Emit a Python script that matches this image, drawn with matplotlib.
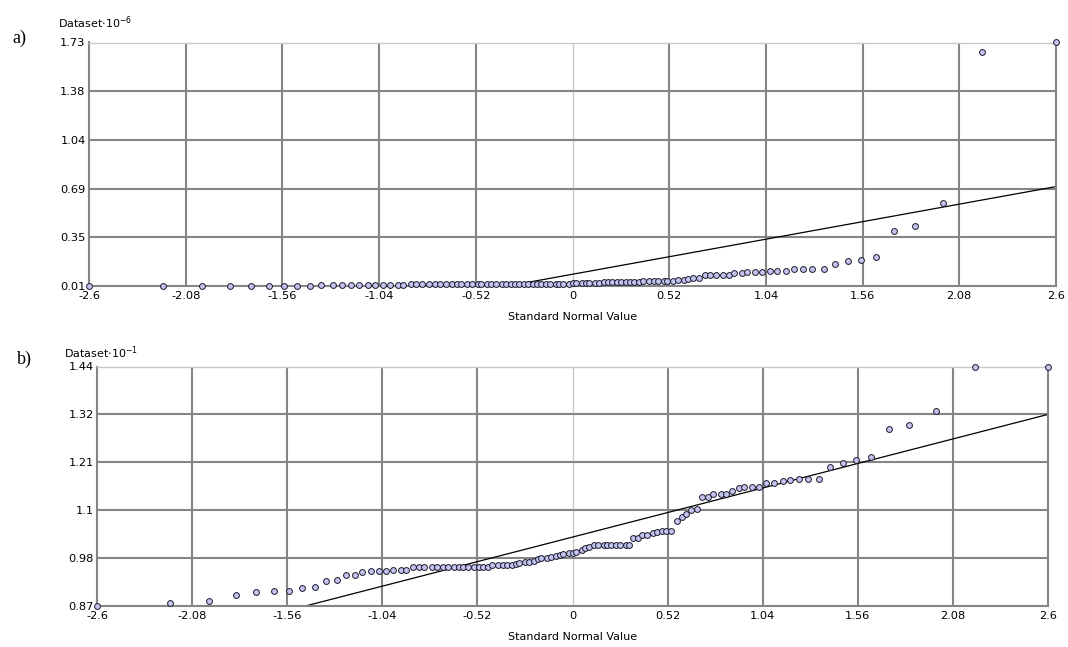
import matplotlib
matplotlib.use('Agg')
import matplotlib.pyplot as plt
import numpy as np

# Quantis teóricos (eixo X) - 107 pontos
x_quantis = [-2.60, -2.20, -1.99, -1.84, -1.73, -1.63, -1.55, -1.48, -1.41, -1.35,
             -1.29, -1.24, -1.19, -1.15, -1.10, -1.06, -1.02, -0.98, -0.94, -0.91,
             -0.87, -0.84, -0.81, -0.77, -0.74, -0.71, -0.68, -0.65, -0.62, -0.60,
             -0.57, -0.54, -0.51, -0.49, -0.46, -0.44, -0.41, -0.38, -0.36, -0.33,
             -0.31, -0.29, -0.26, -0.24, -0.21, -0.19, -0.17, -0.14, -0.12, -0.09,
             -0.07, -0.05, -0.02, 0.00, 0.02, 0.05, 0.07, 0.09, 0.12, 0.14,
             0.17, 0.19, 0.21, 0.24, 0.26, 0.29, 0.31, 0.33, 0.36, 0.38,
             0.41, 0.44, 0.46, 0.49, 0.51, 0.54, 0.57, 0.60, 0.62, 0.65,
             0.68, 0.71, 0.74, 0.77, 0.81, 0.84, 0.87, 0.91, 0.94, 0.98,
             1.02, 1.06, 1.10, 1.15, 1.19, 1.24, 1.29, 1.35, 1.41, 1.48,
             1.55, 1.63, 1.73, 1.84, 1.99, 2.20, 2.60]

# Painel a) - Dataset * 10^-6
dados_a = ([0.012] * 9 + [0.020] * 11 + [0.022] * 20 + [0.024] * 13 +
           [0.030] * 7 + [0.036] * 9 + [0.043] * 7 +
           [0.052, 0.052, 0.060, 0.065, 0.070] +
           [0.090] * 5 + [0.100] * 2 + [0.110] * 3 + [0.118] * 3 + [0.128] * 4 +
           [0.165, 0.187, 0.194, 0.215, 0.397, 0.436, 0.597, 1.660, 1.730])
linha_a_x = [-2.6, 2.6]
linha_a_y = [-0.526, 0.712]
yticks_a = ['0.01', '0.35', '0.69', '1.04', '1.38', '1.73']

# Painel b) - Dataset * 10^-1
dados_b = ([0.870, 0.876, 0.881, 0.897, 0.903, 0.906, 0.906, 0.913, 0.916, 0.929,
            0.932, 0.944, 0.944, 0.951, 0.954, 0.954, 0.954, 0.956, 0.956, 0.956] +
           [0.962] * 15 + [0.968] * 5 +
           [0.970, 0.972, 0.974, 0.975, 0.978, 0.983, 0.984, 0.985, 0.987, 0.989,
            0.991, 0.993, 0.995, 0.996, 0.998, 1.003, 1.009, 1.010] +
           [1.014] * 9 +
           [1.033, 1.033, 1.039, 1.039, 1.043, 1.045, 1.048, 1.048, 1.048, 1.073,
            1.081, 1.089, 1.098, 1.102, 1.130, 1.130, 1.137, 1.137, 1.137, 1.144,
            1.150, 1.153, 1.153, 1.153, 1.162, 1.162, 1.168, 1.171, 1.172, 1.172,
            1.172, 1.201, 1.210, 1.217, 1.225, 1.292, 1.301, 1.333, 1.438, 1.440])
linha_b_x = [-2.6, 2.6]
linha_b_y = [0.742, 1.326]
yticks_b = ['0.87', '0.98', '1.1', '1.21', '1.32', '1.44']

xticks = ['-2.6', '-2.08', '-1.56', '-1.04', '-0.52', '0', '0.52', '1.04', '1.56', '2.08', '2.6']

plt.rcParams['font.family'] = ['DejaVu Sans']
fig = plt.figure(figsize=(10.68, 6.47), dpi=100)

GRID = '#858585'
LEVE = '#c8c8c8'


def desenha_painel(rect, dados, lx, ly, ylabels, titulo_y, letra, pos_letra, pos_titulo):
    ax = fig.add_axes(rect)
    ymin, ymax = float(ylabels[0]), float(ylabels[-1])
    xpos = [float(t) for t in xticks]
    ypos = np.linspace(ymin, ymax, len(ylabels))

    ax.set_xlim(-2.6, 2.6)
    ax.set_ylim(ymin, ymax)

    # Grade (linha do zero mais clara)
    for xv in xpos[1:-1]:
        cor, lw = (LEVE, 1.0) if xv == 0 else (GRID, 1.5)
        ax.axvline(xv, color=cor, lw=lw, zorder=1)
    for yv in ypos[1:-1]:
        ax.axhline(yv, color=GRID, lw=1.5, zorder=1)

    for lado in ['left', 'right', 'bottom']:
        ax.spines[lado].set_color(GRID)
        ax.spines[lado].set_linewidth(1.5)
    ax.spines['top'].set_color(LEVE)
    ax.spines['top'].set_linewidth(1.0)

    ax.plot(lx, ly, color='black', lw=0.9, zorder=2)
    ax.plot(x_quantis, dados, 'o', ms=4.2, mfc='#c4c4f2', mec='#1a1a2a', mew=0.7,
            zorder=3, clip_on=False)

    ax.set_xticks(xpos)
    ax.set_xticklabels(xticks)
    ax.set_yticks(ypos)
    ax.set_yticklabels(ylabels)
    ax.tick_params(length=0, labelsize=8.2)
    ax.tick_params(axis='x', pad=3.5)
    ax.tick_params(axis='y', pad=2.5)
    ax.set_xlabel('Standard Normal Value', fontsize=8, labelpad=8)

    fig.text(pos_titulo[0] / 1068, 1 - pos_titulo[1] / 647, titulo_y,
             fontsize=8, ha='left', va='bottom')
    fig.text(pos_letra[0] / 1068, 1 - pos_letra[1] / 647, letra,
             fontsize=13, family='Liberation Serif', ha='left', va='baseline')
    return ax


desenha_painel([89 / 1068, 1 - 286 / 647, 967 / 1068, 243.5 / 647],
               dados_a, linha_a_x, linha_a_y, yticks_a,
               r'Dataset$\cdot$10$^{-6}$', 'a)', (12, 43), (58, 31))
desenha_painel([97 / 1068, 1 - 606 / 647, 951 / 1068, 239.5 / 647],
               dados_b, linha_b_x, linha_b_y, yticks_b,
               r'Dataset$\cdot$10$^{-1}$', 'b)', (17, 364), (64, 361))

fig.savefig('out.png', dpi=100)
